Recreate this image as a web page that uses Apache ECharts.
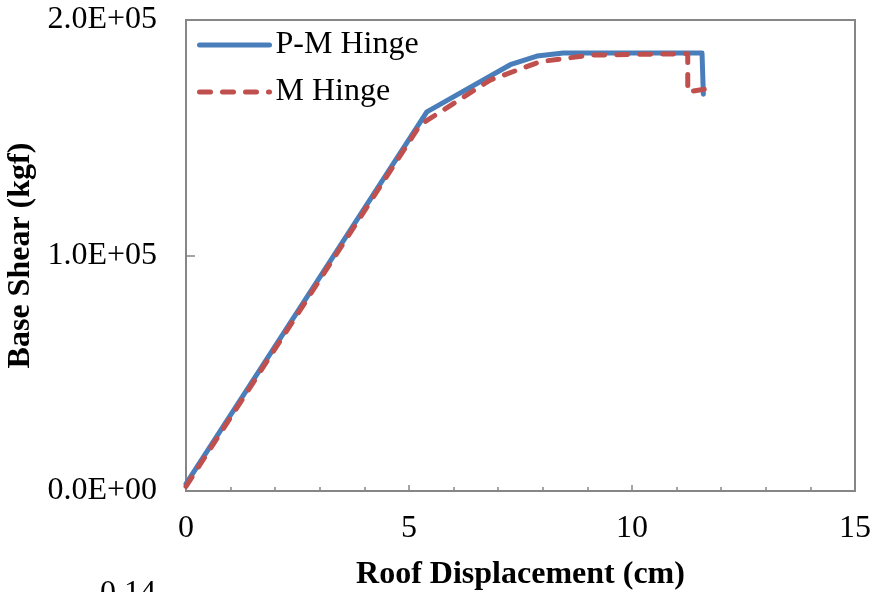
<!DOCTYPE html>
<html>
<head>
<meta charset="utf-8">
<script src="https://cdn.jsdelivr.net/npm/echarts@6/dist/echarts.min.js"></script>
<style>
  html, body { margin: 0; padding: 0; background: #fff; }
  #chart { width: 873px; height: 592px; }
</style>
</head>
<body>
<div id="chart"></div>
<script>
// Pushover curves: roof displacement (cm) vs base shear (kgf)
const pmHingeDisp  = [0, 5.4, 7.27, 7.87, 8.46, 11.57, 11.6];
const pmHingeShear = [3000, 161000, 181000, 184700, 186000, 186000, 168500];

const mHingeDisp  = [0, 5.25, 6.82, 7.94, 9.06, 11.25, 11.25, 11.87];
const mHingeShear = [2000, 155500, 174500, 182300, 185100, 185700, 169500, 171300];

const seriesNames = ['P-M Hinge', 'M Hinge'];
const xTicks = [0, 5, 10, 15];
const yTicks = [0, 100000, 200000];

const pairs = (xs, ys) => xs.map((x, i) => [x, ys[i]]);

// Excel-style scientific labels, e.g. 1.0E+05
function sci(v) {
  if (v === 0) return '0.0E+00';
  const e = Math.floor(Math.log10(Math.abs(v)));
  const m = v / Math.pow(10, e);
  const sign = e < 0 ? '-' : '+';
  const ea = Math.abs(e);
  return m.toFixed(1) + 'E' + sign + (ea < 10 ? '0' + ea : ea);
}

const font = '"Liberation Serif", "Times New Roman", serif';
const axisGray = '#868686';
const blue = '#4A7EBB';
const red = '#C0504D';

const chart = echarts.init(document.getElementById('chart'), null, { renderer: 'canvas' });
chart.setOption({
  animation: false,
  backgroundColor: '#fff',
  grid: {
    left: 186, right: 18, top: 20, bottom: 101,
    outerBoundsMode: 'none',
    containLabel: false,
    show: true, borderColor: axisGray, borderWidth: 2, backgroundColor: 'transparent'
  },
  legend: {
    orient: 'vertical',
    left: 197, top: 29, padding: 0,
    itemWidth: 70, itemHeight: 16, itemGap: 15,
    itemStyle: { opacity: 0 },
    lineStyle: { width: 5, cap: 'round' },
    textStyle: { fontFamily: font, fontSize: 32, color: '#000', padding: [0, 0, 0, 1] },
    data: seriesNames
  },
  xAxis: {
    type: 'value',
    min: xTicks[0], max: xTicks[xTicks.length - 1], interval: 5,
    name: 'Roof Displacement (cm)',
    nameLocation: 'middle', nameGap: 68,
    nameTextStyle: { fontFamily: font, fontSize: 32, fontWeight: 'bold', color: '#000' },
    axisLine: { show: true, lineStyle: { color: axisGray, width: 2 } },
    axisTick: { show: true, inside: true, length: 6, lineStyle: { color: axisGray, width: 1.5 } },
    minorTick: { show: true, splitNumber: 5, length: 4, lineStyle: { color: axisGray, width: 1.5 } },
    axisLabel: { fontFamily: font, fontSize: 32, color: '#000', margin: 22 },
    splitLine: { show: false }
  },
  yAxis: {
    type: 'value',
    min: yTicks[0], max: yTicks[yTicks.length - 1], interval: 100000,
    name: 'Base Shear (kgf)',
    nameLocation: 'middle', nameGap: 148, nameRotate: 90,
    nameTextStyle: { fontFamily: font, fontSize: 32, fontWeight: 'bold', color: '#000' },
    axisLine: { show: true, lineStyle: { color: axisGray, width: 2 } },
    axisTick: { show: true, inside: true, length: 9, lineStyle: { color: axisGray, width: 1.5 } },
    axisLabel: { fontFamily: font, fontSize: 32, color: '#000', margin: 29, formatter: sci },
    splitLine: { show: false }
  },
  series: [
    {
      name: seriesNames[0],
      type: 'line',
      data: pairs(pmHingeDisp, pmHingeShear),
      showSymbol: false, symbol: 'none',
      lineStyle: { color: blue, width: 5, cap: 'round', join: 'round' },
      itemStyle: { color: blue },
      z: 2
    },
    {
      name: seriesNames[1],
      type: 'line',
      data: pairs(mHingeDisp, mHingeShear),
      showSymbol: false, symbol: 'none',
      lineStyle: { color: red, width: 5, type: [11, 12], cap: 'round', join: 'round' },
      itemStyle: { color: red },
      z: 3
    }
  ],
  graphic: [
    {
      type: 'text', left: 100, top: 578,
      style: { text: '0.14', font: '32px ' + font, fill: '#000' }
    }
  ]
});
</script>
</body>
</html>
